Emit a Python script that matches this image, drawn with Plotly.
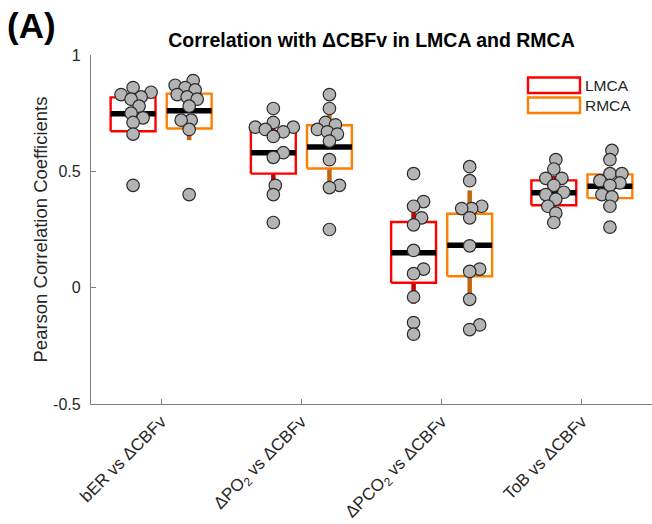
import plotly.graph_objects as go

# Comparison labels along the x axis
categories = [
    "bER vs \u0394CBFv",
    "\u0394PO<sub>2</sub> vs \u0394CBFv",
    "\u0394PCO<sub>2</sub> vs \u0394CBFv",
    "ToB vs \u0394CBFv",
]
y_ticks = [-0.5, 0, 0.5, 1]
y_ticktext = ["-0.5", "0", "0.5", "1"]

# Per-subject Pearson r values, left MCA
lmca_ber = [0.86, 0.84, 0.83, 0.82, 0.81, 0.78, 0.75, 0.73, 0.71, 0.66, 0.44]
lmca_po2 = [0.77, 0.71, 0.69, 0.69, 0.68, 0.67, 0.65, 0.58, 0.56, 0.44, 0.40, 0.28]
lmca_pco2 = [0.49, 0.37, 0.35, 0.30, 0.27, 0.16, 0.08, 0.06, -0.04, -0.15, -0.20]
lmca_tob = [0.55, 0.51, 0.47, 0.47, 0.44, 0.41, 0.40, 0.38, 0.35, 0.32, 0.28]

# Per-subject Pearson r values, right MCA
rmca_ber = [0.89, 0.87, 0.86, 0.85, 0.83, 0.82, 0.81, 0.78, 0.72, 0.72, 0.68, 0.40]
rmca_po2 = [0.83, 0.77, 0.71, 0.70, 0.68, 0.67, 0.66, 0.63, 0.55, 0.44, 0.43, 0.25]
rmca_pco2 = [0.52, 0.46, 0.35, 0.34, 0.34, 0.30, 0.18, 0.08, 0.07, -0.05, -0.16, -0.18]
rmca_tob = [0.59, 0.55, 0.49, 0.49, 0.46, 0.45, 0.44, 0.40, 0.39, 0.35, 0.26]

# Box summary statistics per comparison
lmca_q1 = [0.672, 0.490, 0.021, 0.354]
lmca_median = [0.747, 0.580, 0.150, 0.408]
lmca_q3 = [0.818, 0.672, 0.282, 0.461]
lmca_low = [0.635, 0.452, -0.069, 0.330]
lmca_high = [0.860, 0.725, 0.340, 0.480]

rmca_q1 = [0.684, 0.512, 0.049, 0.385]
rmca_median = [0.760, 0.605, 0.182, 0.436]
rmca_q3 = [0.834, 0.698, 0.318, 0.487]
rmca_low = [0.634, 0.447, -0.040, 0.350]
rmca_high = [0.890, 0.780, 0.418, 0.512]

lmca_points = [lmca_ber, lmca_po2, lmca_pco2, lmca_tob]
rmca_points = [rmca_ber, rmca_po2, rmca_pco2, rmca_tob]

FONT = "Liberation Sans, Arial, sans-serif"
W, H = 652, 524
M_L, M_R, M_T, M_B = 91, 0, 55, 120
X_RANGE = [0.5, 4.5]
Y_RANGE = [-0.5, 1.0]
PX_X = (W - M_L - M_R) / (X_RANGE[1] - X_RANGE[0])
PX_Y = (H - M_T - M_B) / (Y_RANGE[1] - Y_RANGE[0])

GROUP_SHIFT = 0.2
HALF_BOX = 0.16


def swarm_offsets(values, min_dist=9.5, step=2.0):
    """Beeswarm-style horizontal offsets (data units) so markers do not pile up."""
    order = sorted(range(len(values)), key=lambda i: values[i])
    placed = []
    offs = [0.0] * len(values)
    for i in order:
        yp = values[i] * PX_Y
        k = 0
        while True:
            cand = ((k + 1) // 2) * step * (1 if k % 2 else -1)
            if all((cand - px) ** 2 + (yp - py) ** 2 >= min_dist ** 2 for px, py in placed):
                break
            k += 1
        placed.append((cand, yp))
        offs[i] = cand / PX_X
    return offs


def group_traces(points, q1, med, q3, low, high, shift, box_color, whisker_color):
    traces = []
    wx, wy, bx, by, mx, my = [], [], [], [], [], []
    for i in range(len(categories)):
        c = i + 1 + shift
        wx += [c, c, None, c, c, None]
        wy += [q3[i], high[i], None, q1[i], low[i], None]
        bx += [c - HALF_BOX, c + HALF_BOX, c + HALF_BOX, c - HALF_BOX, c - HALF_BOX, None]
        by += [q1[i], q1[i], q3[i], q3[i], q1[i], None]
        mx += [c - HALF_BOX, c + HALF_BOX, None]
        my += [med[i], med[i], None]
    traces.append(go.Scatter(x=wx, y=wy, mode="lines", hoverinfo="skip",
                             line=dict(color=whisker_color, width=4.5), showlegend=False))
    traces.append(go.Scatter(x=bx, y=by, mode="lines", hoverinfo="skip",
                             line=dict(color=box_color, width=2.4), showlegend=False))
    traces.append(go.Scatter(x=mx, y=my, mode="lines", hoverinfo="skip",
                             line=dict(color="black", width=5.5), showlegend=False))
    px, py = [], []
    for i, vals in enumerate(points):
        offs = swarm_offsets(vals)
        px += [i + 1 + shift + o for o in offs]
        py += vals
    traces.append(go.Scatter(x=px, y=py, mode="markers", showlegend=False,
                             marker=dict(size=12.5, color="#b4b4b4",
                                         line=dict(color="#2b2b2b", width=1.2))))
    return traces


fig = go.Figure()
for t in group_traces(lmca_points, lmca_q1, lmca_median, lmca_q3, lmca_low, lmca_high,
                      -GROUP_SHIFT, "#ff0000", "#c80000"):
    fig.add_trace(t)
for t in group_traces(rmca_points, rmca_q1, rmca_median, rmca_q3, rmca_low, rmca_high,
                      GROUP_SHIFT, "#ff8000", "#c4650c"):
    fig.add_trace(t)


def to_paper(px, py):
    return (px - M_L) / (W - M_L - M_R), (H - M_B - py) / (H - M_T - M_B)


# Legend drawn as wide outlined swatches with labels
shapes = []
annotations = []
for label, color, top in [("LMCA", "#ff0000", 77.5), ("RMCA", "#ff8000", 97.5)]:
    x0, y0 = to_paper(528, top)
    x1, y1 = to_paper(580, top + 15.5)
    shapes.append(dict(type="rect", xref="paper", yref="paper", x0=x0, x1=x1, y0=y1, y1=y0,
                       line=dict(color=color, width=2.4), fillcolor="rgba(0,0,0,0)"))
    tx, ty = to_paper(583, top + 8)
    annotations.append(dict(text=label, xref="paper", yref="paper", x=tx, y=ty,
                            xanchor="left", yanchor="middle", showarrow=False,
                            font=dict(family=FONT, size=15.5, color="#262626")))

annotations.append(dict(text="<b>(A)</b>", xref="paper", yref="paper",
                        x=to_paper(5, 0)[0], y=to_paper(0, 26)[1],
                        xanchor="left", yanchor="middle", showarrow=False,
                        font=dict(family=FONT, size=35, color="black")))

# Y-axis title placed as a rotated annotation centred on the plot height
yt_x, yt_y = to_paper(40, (M_T + H - M_B) / 2)
annotations.append(dict(text="Pearson Correlation Coefficients", xref="paper", yref="paper",
                        x=yt_x, y=yt_y, xanchor="center", yanchor="middle", textangle=-90,
                        showarrow=False, font=dict(family=FONT, size=18.5, color="#262626")))

fig.update_layout(
    width=W, height=H,
    margin=dict(l=M_L, r=M_R, t=M_T, b=M_B),
    paper_bgcolor="white", plot_bgcolor="white",
    showlegend=False,
    font=dict(family=FONT, size=15, color="#262626"),
    title=dict(text="<b>Correlation with \u0394CBFv in LMCA and RMCA</b>",
               x=(M_L + (W - M_L - M_R) / 2) / W, xanchor="center",
               y=1 - 40 / H, yanchor="middle",
               font=dict(family=FONT, size=19.5, color="black")),
    shapes=shapes,
    annotations=annotations,
    xaxis=dict(range=X_RANGE, tickmode="array", tickvals=[1, 2, 3, 4], ticktext=categories,
               tickangle=-45, ticks="inside", ticklen=5, tickcolor="#808080",
               showline=True, linecolor="#808080", linewidth=1.2, showgrid=False,
               zeroline=False, tickfont=dict(family=FONT, size=17, color="#262626")),
    yaxis=dict(range=Y_RANGE, tickmode="array", tickvals=y_ticks, ticktext=y_ticktext,
               ticks="inside", ticklen=5, tickcolor="#808080", ticklabelstandoff=6,
               showline=True, linecolor="#808080", linewidth=1.2, showgrid=False,
               zeroline=False, tickfont=dict(family=FONT, size=16, color="#262626")),
)

fig.write_html("out.html")
